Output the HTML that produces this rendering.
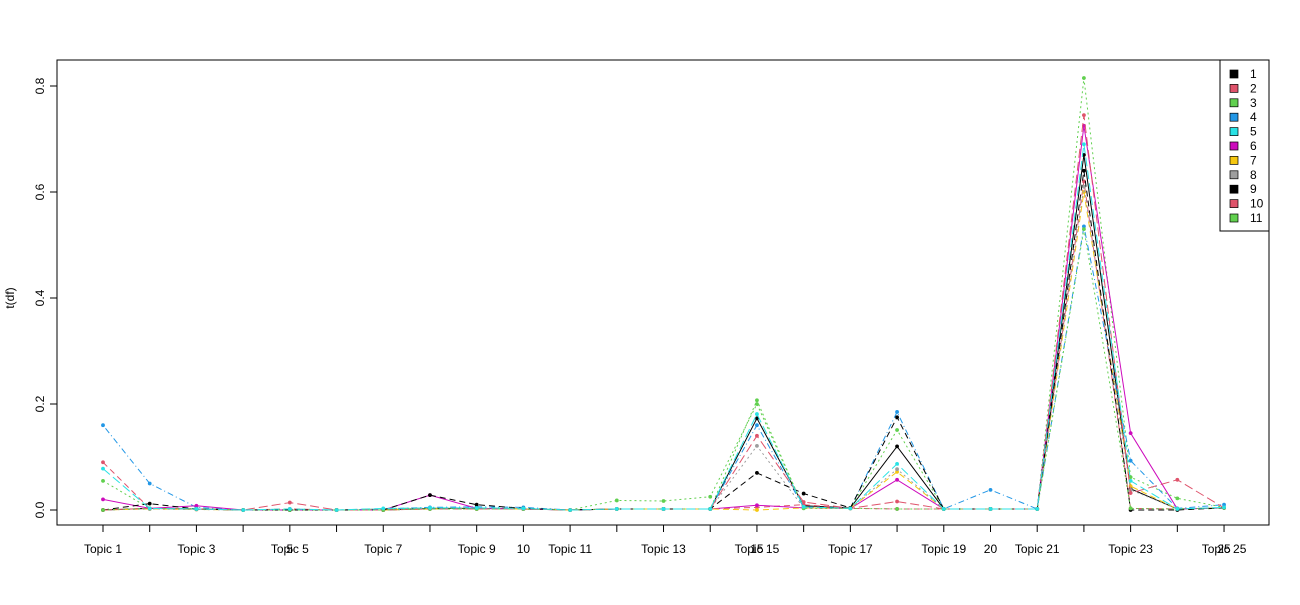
<!DOCTYPE html>
<html><head><meta charset="utf-8"><style>
body{margin:0;background:#fff;}
svg text{font-family:"Liberation Sans",Arial,sans-serif;font-size:12px;fill:#000;}
</style></head><body>
<svg id="chart" width="1300" height="600" xmlns="http://www.w3.org/2000/svg">
<rect x="57" y="60" width="1212" height="465" fill="none" stroke="#000"/>
<g id="axes"></g><g id="lines"></g><g id="legend"></g>
<text x="14" y="298" transform="rotate(-90 14 298)" text-anchor="middle">t(df)</text>
</svg>
<script>
const categories=["Topic 1","Topic 2","Topic 3","Topic 4","Topic 5","Topic 6","Topic 7","Topic 8","Topic 9","Topic 10","Topic 11","Topic 12","Topic 13","Topic 14","Topic 15","Topic 16","Topic 17","Topic 18","Topic 19","Topic 20","Topic 21","Topic 22","Topic 23","Topic 24","Topic 25"];
const s1=[0,0.003,0.002,0,0,0,0,0.003,0.003,0.002,0,0.002,0.002,0.002,0.173,0.008,0.004,0.12,0.002,0.002,0.002,0.67,0.04,0.002,0.004];
const s2=[0.09,0.003,0.002,0,0.002,0,0,0.002,0.002,0.002,0,0.002,0.002,0.002,0.005,0.01,0.003,0.002,0.002,0.002,0.002,0.62,0.003,0.002,0.004];
const s3=[0.055,0.003,0.002,0,0,0,0.002,0.003,0.003,0.002,0,0.018,0.017,0.025,0.2,0.004,0.003,0.151,0.002,0.002,0.002,0.815,0.062,0.022,0.005];
const s4=[0.16,0.05,0.005,0,0,0,0.002,0.005,0.006,0.005,0,0.002,0.002,0.002,0.16,0.005,0.003,0.185,0.002,0.038,0.002,0.535,0.093,0.003,0.01];
const s5=[0.078,0.003,0.002,0,0.002,0,0.003,0.004,0.004,0.003,0,0.002,0.002,0.002,0.181,0.006,0.003,0.087,0.002,0.002,0.002,0.69,0.055,0.002,0.005];
const s6=[0.02,0.003,0.008,0,0,0,0,0.028,0.003,0.002,0,0.002,0.002,0.002,0.009,0.004,0.003,0.057,0.002,0.002,0.002,0.725,0.145,0.002,0.004];
const s7=[0,0.002,0.001,0,0,0,0,0.002,0.002,0.002,0,0.002,0.002,0.002,0,0.004,0.003,0.072,0.002,0.002,0.002,0.6,0.045,0.002,0.004];
const s8=[0,0.002,0.001,0,0,0,0,0.002,0.002,0.002,0,0.002,0.002,0.002,0.121,0.004,0.003,0.077,0.002,0.002,0.002,0.61,0.038,0.002,0.004];
const s9=[0,0.012,0.002,0,0,0,0,0.028,0.01,0.003,0,0.002,0.002,0.002,0.07,0.031,0.004,0.175,0.002,0.002,0.002,0.64,0.0,0.0,0.004];
const s10=[0,0.003,0.002,0,0.014,0,0,0.002,0.002,0.002,0,0.002,0.002,0.002,0.14,0.015,0.003,0.016,0.002,0.002,0.002,0.745,0.032,0.057,0.004];
const s11=[0,0.003,0.002,0,0,0,0,0.002,0.002,0.002,0,0.002,0.002,0.002,0.207,0.003,0.003,0.002,0.002,0.002,0.002,0.53,0.003,0.002,0.004];
const series=[s1,s2,s3,s4,s5,s6,s7,s8,s9,s10,s11];
const seriesNames=["1","2","3","4","5","6","7","8","9","10","11"];
const yTicks=[0,0.2,0.4,0.6,0.8];
const yTickLabels=["0.0","0.2","0.4","0.6","0.8"];
const extraLabels=["5","10","15","20","25"];

const colors=["#000000","#DF536B","#61D04F","#2297E6","#28E2E5","#CD0BBC","#F5C710","#9E9E9E","#000000","#DF536B","#61D04F"];
const dashes=["","6,4","2,3","1,3,6,3","9,4","","6,4","2,3","6,4","9,4","2,3"];
const drawOrder=[0,1,2,3,5,6,7,8,9,10,4];
const NS="http://www.w3.org/2000/svg";
const X=i=>103+i*46.71;
const Y=v=>510-v*530;
function mk(t,a,p){const e=document.createElementNS(NS,t);for(const k in a)e.setAttribute(k,a[k]);p.appendChild(e);return e;}
const ax=document.getElementById('axes');
mk('line',{x1:X(0),x2:X(categories.length-1),y1:525,y2:525,stroke:'#000'},ax);
categories.forEach((c,i)=>{
  const t=mk('line',{x1:X(i),x2:X(i),y1:525,y2:532,stroke:'#000'},ax);
  
  
  if(i%2===0){
    const l=mk('text',{x:X(i),y:553,'text-anchor':'middle'},ax);l.textContent=c;
    
    
  }
});
extraLabels.forEach(s=>{
  const i=parseInt(s)-1;
  const l=mk('text',{x:X(i),y:553,'text-anchor':'middle'},ax);l.textContent=s;
  
  
});
mk('line',{x1:57,x2:57,y1:Y(0),y2:Y(0.8),stroke:'#000'},ax);
yTicks.forEach((v,i)=>{
  mk('line',{x1:50,x2:57,y1:Y(v),y2:Y(v),stroke:'#000'},ax);
  const l=mk('text',{x:44,y:Y(v),'text-anchor':'middle',transform:`rotate(-90 44 ${Y(v)})`},ax);
  l.textContent=yTickLabels[i];
  
  
});
const lg=document.getElementById('lines');
drawOrder.forEach(k=>{
  const s=series[k];
  const g=mk('g',{},lg);
  
  
  const pts=s.map((v,i)=>X(i)+','+Y(v)).join(' ');
  const a={points:pts,fill:'none',stroke:colors[k],'stroke-width':1};
  if(dashes[k])a['stroke-dasharray']=dashes[k];
  mk('polyline',a,g);
  s.forEach((v,i)=>{
    const p=mk('circle',{cx:X(i),cy:Y(v),r:1.9,fill:colors[k]},g);
    
    
  });
});
const leg=document.getElementById('legend');
const lb=mk('rect',{x:1220,y:60,width:49,height:171,fill:'#fff',stroke:'#000'},leg);


seriesNames.forEach((n,k)=>{
  const y=74+k*14.4;
  const r=mk('rect',{x:1230,y:y-4,width:8,height:8,fill:colors[k],stroke:'#000','stroke-width':0.7},leg);
  
  
  const t=mk('text',{x:1250,y:y+4},leg);t.textContent=n;
  
  
});
</script>
</body></html>
